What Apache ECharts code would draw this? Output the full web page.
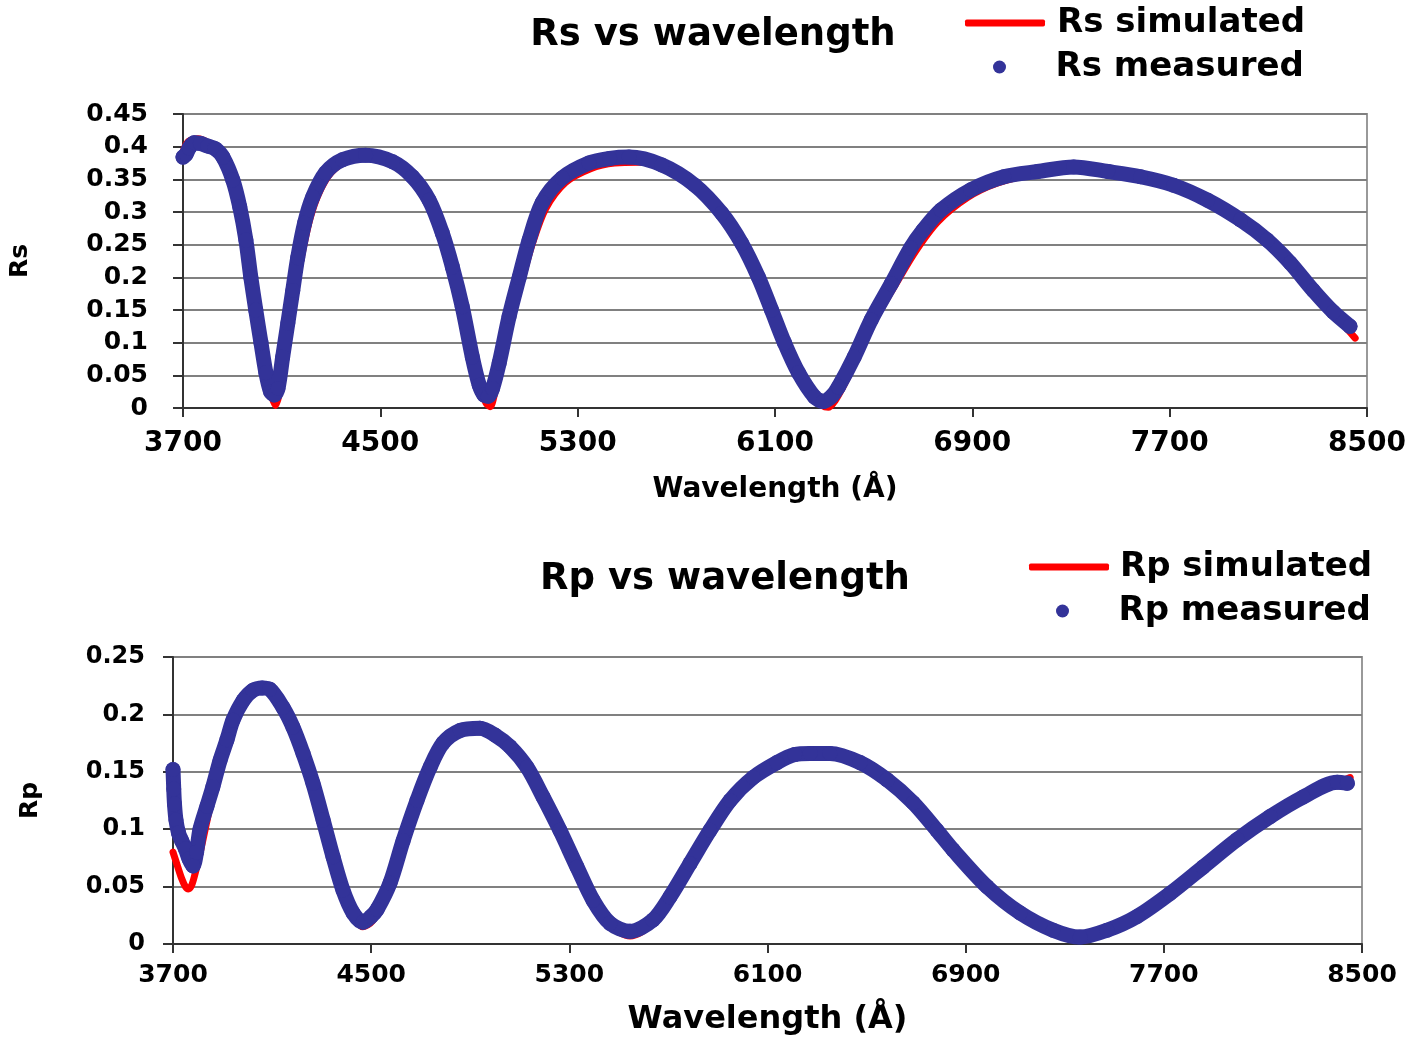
<!DOCTYPE html>
<html>
<head>
<meta charset="utf-8">
<title>Rs / Rp vs wavelength</title>
<script src="https://cdn.jsdelivr.net/npm/echarts@6/dist/echarts.min.js"></script>
<style>
  html, body { margin: 0; padding: 0; background: #fff; }
  #chart { width: 1416px; height: 1037px; }
</style>
</head>
<body>
<div id="chart"></div>
<script>
// wavelength ticks (Å)
const xTicks = [3700, 4500, 5300, 6100, 6900, 7700, 8500]

// [wavelength, Rs]
const rsSimulated = [
  [3700, 0.392], [3715, 0.405], [3730, 0.41], [3760, 0.412], [3800, 0.406], [3850, 0.387],
  [3880, 0.37], [3910, 0.34], [3940, 0.285], [3965, 0.228], [3990, 0.165], [4015, 0.105],
  [4040, 0.05], [4058, 0.02], [4075, 0.004], [4092, 0.025], [4110, 0.075], [4135, 0.135],
  [4160, 0.19], [4185, 0.24], [4215, 0.29], [4250, 0.328], [4300, 0.36], [4370, 0.38],
  [4450, 0.387], [4550, 0.377], [4630, 0.354], [4700, 0.317], [4750, 0.268], [4790, 0.216],
  [4830, 0.155], [4870, 0.08], [4905, 0.03], [4928, 0.008], [4945, 0.002], [4965, 0.025],
  [4995, 0.075], [5035, 0.14], [5075, 0.197], [5115, 0.25], [5170, 0.305], [5250, 0.345],
  [5350, 0.366], [5450, 0.375], [5550, 0.376], [5650, 0.37], [5775, 0.341], [5884, 0.298],
  [5965, 0.252], [6033, 0.2], [6086, 0.15], [6138, 0.1], [6195, 0.052], [6250, 0.018],
  [6290, 0.004], [6316, 0.001], [6345, 0.012], [6375, 0.032], [6435, 0.078], [6505, 0.135],
  [6590, 0.19], [6670, 0.24], [6760, 0.285], [6880, 0.322], [7000, 0.344], [7150, 0.358],
  [7300, 0.365], [7450, 0.362], [7582, 0.353], [7716, 0.34], [7854, 0.316], [7987, 0.286],
  [8096, 0.255], [8189, 0.22], [8282, 0.178], [8363, 0.145], [8452, 0.107]
]
const rsMeasured = [
  [3700, 0.384], [3712, 0.388], [3725, 0.398], [3745, 0.406], [3770, 0.405], [3800, 0.401],
  [3830, 0.397], [3862, 0.384], [3902, 0.349], [3930, 0.308], [3955, 0.257], [3975, 0.2],
  [3995, 0.15], [4016, 0.1], [4036, 0.054], [4055, 0.025], [4070, 0.02], [4085, 0.03],
  [4104, 0.078], [4125, 0.13], [4145, 0.18], [4165, 0.23], [4193, 0.283], [4226, 0.323],
  [4278, 0.36], [4347, 0.38], [4440, 0.387], [4550, 0.377], [4630, 0.354], [4698, 0.318],
  [4751, 0.268], [4792, 0.216], [4832, 0.155], [4873, 0.078], [4901, 0.035], [4920, 0.02],
  [4937, 0.018], [4955, 0.03], [4982, 0.069], [5022, 0.14], [5063, 0.2], [5103, 0.257],
  [5156, 0.314], [5237, 0.352], [5346, 0.375], [5430, 0.382], [5508, 0.384], [5641, 0.372],
  [5775, 0.341], [5884, 0.298], [5965, 0.252], [6033, 0.2], [6086, 0.15], [6138, 0.1],
  [6195, 0.054], [6260, 0.017], [6296, 0.01], [6330, 0.018], [6357, 0.032], [6421, 0.078],
  [6490, 0.135], [6571, 0.19], [6650, 0.245], [6700, 0.272], [6773, 0.303], [6894, 0.334],
  [7028, 0.354], [7165, 0.362], [7311, 0.369], [7449, 0.362], [7582, 0.354], [7716, 0.341],
  [7854, 0.318], [7987, 0.288], [8096, 0.257], [8189, 0.222], [8282, 0.18], [8363, 0.147],
  [8431, 0.125]
]

// [wavelength, Rp]
const rpSimulated = [
  [3700, 0.08], [3715, 0.07], [3735, 0.057], [3750, 0.05], [3762, 0.048], [3775, 0.051],
  [3790, 0.062], [3810, 0.08], [3830, 0.1], [3855, 0.125], [3880, 0.15], [3910, 0.173],
  [3945, 0.195], [3985, 0.212], [4025, 0.221], [4065, 0.223], [4100, 0.219], [4144, 0.205],
  [4184, 0.188], [4225, 0.165], [4265, 0.138], [4306, 0.106], [4346, 0.074], [4386, 0.045],
  [4427, 0.024], [4467, 0.015], [4505, 0.02], [4540, 0.034], [4576, 0.053], [4629, 0.09],
  [4685, 0.125], [4738, 0.153], [4790, 0.173], [4859, 0.185], [4939, 0.186], [5000, 0.18],
  [5060, 0.17], [5129, 0.152], [5194, 0.127], [5262, 0.098], [5331, 0.066], [5396, 0.036],
  [5464, 0.016], [5545, 0.007], [5638, 0.018], [5706, 0.04], [5787, 0.069], [5868, 0.098],
  [5949, 0.124], [6042, 0.144], [6138, 0.158], [6210, 0.165], [6272, 0.166], [6352, 0.165],
  [6474, 0.157], [6583, 0.142], [6688, 0.122], [6784, 0.098], [6849, 0.081], [6986, 0.049],
  [7120, 0.025], [7253, 0.01], [7362, 0.003], [7471, 0.01], [7592, 0.022], [7725, 0.043],
  [7858, 0.066], [7996, 0.09], [8129, 0.11], [8262, 0.127], [8400, 0.14], [8452, 0.145]
]
const rpMeasured = [
  [3700, 0.152], [3703, 0.135], [3706, 0.122], [3712, 0.108], [3722, 0.097], [3735, 0.09],
  [3750, 0.083], [3765, 0.074], [3781, 0.068], [3795, 0.08], [3809, 0.1], [3837, 0.12],
  [3861, 0.137], [3890, 0.16], [3918, 0.178], [3942, 0.195], [3983, 0.212], [4023, 0.221],
  [4060, 0.223], [4090, 0.222], [4144, 0.206], [4184, 0.189], [4225, 0.166], [4265, 0.14],
  [4306, 0.108], [4346, 0.076], [4386, 0.047], [4427, 0.027], [4467, 0.019], [4500, 0.024],
  [4524, 0.03], [4576, 0.053], [4629, 0.09], [4685, 0.125], [4738, 0.154], [4790, 0.175],
  [4859, 0.186], [4939, 0.188], [5000, 0.182], [5060, 0.172], [5129, 0.154], [5194, 0.128],
  [5262, 0.099], [5331, 0.067], [5396, 0.038], [5464, 0.018], [5545, 0.011], [5638, 0.021],
  [5706, 0.041], [5787, 0.07], [5868, 0.099], [5949, 0.125], [6042, 0.145], [6138, 0.158],
  [6210, 0.165], [6272, 0.166], [6352, 0.166], [6474, 0.158], [6583, 0.143], [6688, 0.123],
  [6784, 0.099], [6849, 0.082], [6986, 0.05], [7120, 0.027], [7253, 0.012], [7362, 0.006],
  [7471, 0.012], [7592, 0.024], [7725, 0.044], [7858, 0.067], [7996, 0.091], [8129, 0.111],
  [8262, 0.128], [8400, 0.141], [8441, 0.14]
]

const FONT = 'DejaVu Sans'
const RED = '#ff0000'
const BLUE = '#333399'

const chart = echarts.init(document.getElementById('chart'))

function text(size) {
  return { fontFamily: FONT, fontWeight: 'bold', fontSize: size, color: '#000' }
}

function xAxis(gridIndex, labelSize, labelMargin, nameSize, nameGap) {
  return {
    type: 'value',
    gridIndex,
    min: 3700,
    max: 8500,
    name: 'Wavelength (Å)',
    nameLocation: 'middle',
    nameGap,
    nameTextStyle: text(nameSize),
    axisLine: { lineStyle: { color: '#333', width: 2 } },
    axisTick: { customValues: xTicks, length: 9, lineStyle: { color: '#333', width: 2 } },
    axisLabel: { customValues: xTicks, margin: labelMargin, formatter: v => String(v), ...text(labelSize) },
    splitLine: { show: false }
  }
}

function yAxis(gridIndex, name, max, labelSize, labelMargin, nameGap) {
  return {
    type: 'value',
    gridIndex,
    min: 0,
    max,
    interval: 0.05,
    name,
    nameLocation: 'middle',
    nameRotate: 90,
    nameGap,
    nameTextStyle: text(25),
    axisLine: { show: true, lineStyle: { color: '#333', width: 2 } },
    axisTick: { show: true, length: 10, lineStyle: { color: '#333', width: 2 } },
    axisLabel: { margin: labelMargin, ...text(labelSize) },
    splitLine: { lineStyle: { color: '#808080', width: 2 } }
  }
}

function lineSeries(name, data, index, color, measured) {
  return {
    name,
    type: 'line',
    xAxisIndex: index,
    yAxisIndex: index,
    data,
    smooth: 0.3,
    showSymbol: measured,
    showAllSymbol: true,
    symbol: 'circle',
    symbolSize: 15,
    z: measured ? 3 : 2,
    lineStyle: { width: measured ? 15 : 7, color, cap: 'round', join: 'round' },
    itemStyle: { color, borderWidth: 0 },
    emphasis: { disabled: true }
  }
}

function legend(name, left, top, icon, itemWidth, itemHeight, gap) {
  return {
    data: [{ name, icon }],
    orient: 'vertical',
    left,
    top,
    itemWidth,
    itemHeight,
    selectedMode: false,
    textStyle: { ...text(34), padding: [0, 0, 0, gap] }
  }
}

chart.setOption({
  animation: false,
  title: [
    { text: 'Rs vs wavelength', left: 708, top: 12, textAlign: 'center', textStyle: text(37) },
    { text: 'Rp vs wavelength', left: 720, top: 556, textAlign: 'center', textStyle: text(37) }
  ],
  legend: [
    legend('Rs simulated', 960, 1, 'roundRect', 80, 7, 7),
    legend('Rs measured', 988, 45, 'circle', 16, 13, 43),
    legend('Rp simulated', 1024, 545, 'roundRect', 80, 7, 6),
    legend('Rp measured', 1051, 589, 'circle', 16, 13, 43)
  ],
  grid: [
    { left: 180, right: 49, top: 114, height: 294, show: true, borderColor: '#999', borderWidth: 2 },
    { left: 173, right: 54, top: 657, height: 287, show: true, borderColor: '#999', borderWidth: 2 }
  ],
  xAxis: [xAxis(0, 28, 22, 28, 68), xAxis(1, 25, 19, 32, 60)],
  yAxis: [yAxis(0, 'Rs', 0.45, 25, 35, 150), yAxis(1, 'Rp', 0.25, 24, 28, 130)],
  series: [
    lineSeries('Rs simulated', rsSimulated, 0, RED, false),
    lineSeries('Rs measured', rsMeasured, 0, BLUE, true),
    lineSeries('Rp simulated', rpSimulated, 1, RED, false),
    lineSeries('Rp measured', rpMeasured, 1, BLUE, true)
  ]
})
</script>
</body>
</html>
